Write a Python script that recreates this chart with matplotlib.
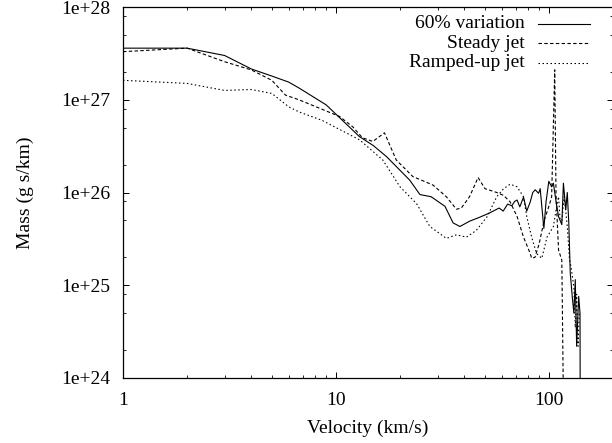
import matplotlib
matplotlib.use("Agg")
import matplotlib.pyplot as plt
from matplotlib.ticker import LogLocator, NullFormatter

plt.rcParams['font.family'] = ['Liberation Serif', 'DejaVu Serif']
plt.rcParams['font.size'] = 14

# 60% variation (solid)
v_var = [1, 2, 3, 4, 5, 6, 6.7, 9.0, 12.9, 15, 17.3, 22.2, 24.8, 28.0, 32.5, 35.5,
         38.2, 42.4, 47.2, 52.5, 58.4, 61, 64, 67, 69, 70.9, 73, 76, 78.7, 81.7,
         84, 86.3, 89.4, 91, 94.7, 97, 99.9, 103, 105, 108, 111, 115, 117, 120,
         122, 124, 126, 128.7, 131, 133, 135, 138, 140, 140.5]
m_var = [3.6e27, 3.6e27, 3.0e27, 2.15e27, 1.8e27, 1.55e27, 1.34e27, 8.8e26, 4.0e26,
         3.2e26, 2.43e26, 1.36e26, 9.5e25, 9.0e25, 7.1e25, 4.7e25,
         4.3e25, 4.9e25, 5.4e25, 6.0e25, 6.8e25, 6.3e25, 7.5e25, 7.2e25, 8.0e25, 8.3e25,
         7.0e25, 8.9e25, 6.3e25, 7.9e25, 1.0e26, 1.07e26, 9.8e25, 1.1e26, 4.1e25,
         8.0e25, 1.32e26, 1.15e26, 1.26e26, 8.0e25, 5.5e25, 4.5e25, 1.26e26, 6.5e25,
         1.0e26, 4.7e25, 1.35e25, 7.6e24, 5.0e24, 1.15e25, 2.2e24, 7.6e24, 5.0e24, 1e23]

# Steady jet (dashed)
v_steady = [1, 2, 3, 4, 5, 5.8, 6.7, 10.4, 12.0, 13.3, 14.9, 16.9, 19.2, 23.0, 24.8,
            28.6, 33, 36.8, 38.8, 42.4, 46.5, 50.1, 56.9, 61.3, 65.8, 70.9, 76.0,
            81.7, 83, 86, 90, 95, 100, 103, 106.5, 108, 111, 115, 118]
m_steady = [3.3e27, 3.6e27, 2.57e27, 2.1e27, 1.62e27, 1.12e27, 1.0e27, 6.6e26, 5.1e26,
            3.9e26, 3.55e26, 4.4e26, 2.24e26, 1.48e26, 1.38e26,
            1.2e26, 9.0e25, 6.6e25, 6.8e25, 9.0e25, 1.45e26, 1.1e26, 1.0e26, 9.3e25,
            7.9e25, 5.5e25, 3.3e25, 2.2e25, 1.95e25, 2.0e25, 2.8e25, 5.0e25, 7.1e25,
            8.9e25, 2.1e27, 9.5e25, 2.4e25, 1.86e25, 1e23]

# Ramped-up jet (dotted)
v_ramp = [1, 2, 3, 4, 5, 6, 6.7, 8.6, 12.9, 16.6, 20, 23.9, 27.6, 33.0, 36.8, 41,
          45.6, 51.3, 56.9, 61.3, 65.8, 70.9, 76, 78.7, 83, 87.5, 92.6, 98, 105,
          108, 111, 113, 115, 118, 122, 125, 127, 131, 133, 135, 137, 139]
m_ramp = [1.62e27, 1.5e27, 1.26e27, 1.29e27, 1.17e27, 8.4e26, 7.4e26, 6.0e26, 3.7e26,
          2.24e26, 1.15e26, 7.6e25, 4.3e25, 3.2e25, 3.5e25, 3.3e25,
          3.9e25, 5.5e25, 9.0e25, 1.1e26, 1.23e26, 1.15e26, 9.0e25, 5.5e25, 3.3e25,
          2.2e25, 1.95e25, 3.3e25, 4.3e25, 6.5e25, 9.0e25, 5.0e25, 5.0e25, 9.0e25,
          4.3e25, 1.86e25, 1.6e25, 9.5e24, 3.5e24, 8.0e24, 2.2e24, 5.0e24]

labels = ["60% variation", "Steady jet", "Ramped-up jet"]

fig = plt.figure(figsize=(6.12, 4.43), dpi=100)
ax = fig.add_axes([123 / 612, 65 / 443, 490 / 612, 371 / 443])

lw = 0.8
ax.plot(v_var, m_var, color='black', lw=lw)
ax.plot(v_steady, m_steady, color='black', lw=lw, dashes=(3.1, 2.1))
ax.plot(v_ramp, m_ramp, color='black', lw=lw, dashes=(1.35, 2.25))

ax.set_xscale('log')
ax.set_yscale('log')
ax.set_xlim(1, 200)
ax.set_ylim(1e24, 1e28)

ax.set_xticks([1, 10, 100])
ax.set_xticklabels(['1', '10', '100'])
ax.xaxis.set_minor_locator(LogLocator(base=10, subs=range(2, 10)))
ax.xaxis.set_minor_formatter(NullFormatter())
ax.set_yticks([1e24, 1e25, 1e26, 1e27, 1e28])
ax.set_yticklabels(['1e+24', '1e+25', '1e+26', '1e+27', '1e+28'])
ax.yaxis.set_minor_locator(LogLocator(base=10, subs=(2, 5, 8)))
ax.yaxis.set_minor_formatter(NullFormatter())

ax.tick_params(which='both', direction='in', top=True, right=True)
ax.tick_params(which='major', length=4, width=0.7)
ax.tick_params(which='minor', length=2.2, width=0.6)
ax.tick_params(axis='x', which='major', pad=10)
ax.tick_params(axis='y', which='major', pad=9)
for s in ax.spines.values():
    s.set_linewidth(0.9)

ax.set_xlabel("Velocity (km/s)", labelpad=8)
ax.set_ylabel("Mass (g s/km)", labelpad=20)

# legend drawn by hand, gnuplot style
ys = [0.955, 0.902, 0.85]
styles = [None, (3.1, 2.1), (1.35, 2.25)]
for lab, yy, ds in zip(labels, ys, styles):
    ax.text(0.82, yy, lab, transform=ax.transAxes, ha='right', va='center')
    ln, = ax.plot([0.847, 0.953], [yy, yy], transform=ax.transAxes, color='black', lw=lw)
    if ds:
        ln.set_dashes(ds)

fig.savefig("out.png", dpi=100)
